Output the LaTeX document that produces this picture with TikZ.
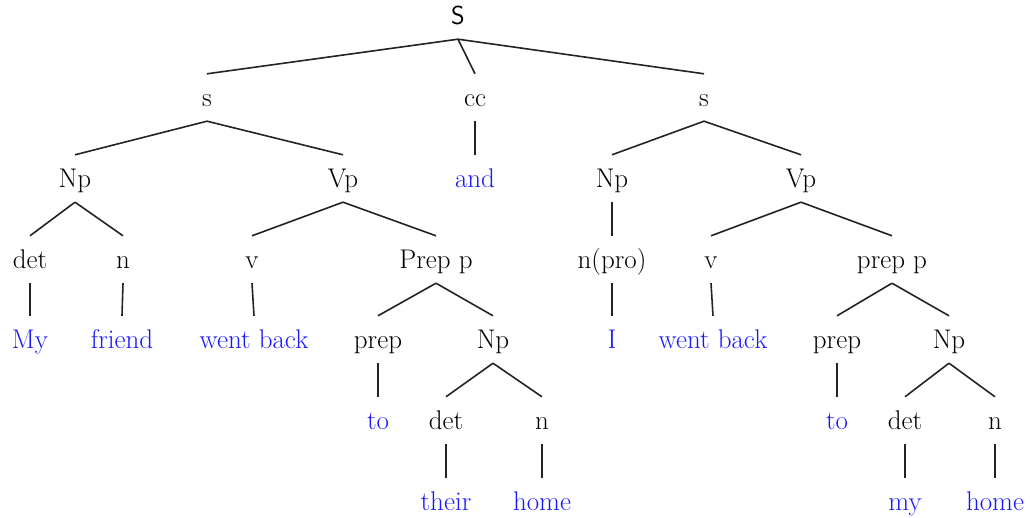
\documentclass[tikz,border=0pt]{standalone}
\usepackage{xcolor}
\definecolor{leafblue}{RGB}{25,25,250}
\definecolor{edgegray}{RGB}{35,35,35}
\begin{document}
\begin{tikzpicture}[x=1pt,y=-1pt,
  tn/.style={anchor=base,inner xsep=0pt,inner ysep=10pt,text height=23pt,text depth=4pt,
    font=\fontsize{27}{32}\selectfont,text=black},
  lf/.style={tn,text=leafblue},
  edge/.style={draw=edgegray,line width=1.6pt}]
\useasboundingbox (0,0) rectangle (1034,518);
% rows (baselines)
\node[tn,font=\fontsize{26}{30}\selectfont\sffamily] (S) at (458,25) {S};
\node[tn] (s1) at (207,107) {s};
\node[tn] (cc) at (475,107) {cc};
\node[tn] (s2) at (704,107) {s};
\node[tn] (np1) at (75,188) {Np};
\node[tn] (vp1) at (343,188) {Vp};
\node[lf] (and) at (475,188) {and};
\node[tn] (np2) at (612,188) {Np};
\node[tn] (vp2) at (801,188) {Vp};
\node[tn] (det1) at (30,269) {det};
\node[tn] (n1) at (123,269) {n};
\node[tn] (v1) at (252,269) {v};
\node[tn] (pp1) at (436,269) {Prep p};
\node[tn] (npro) at (612,269) {n(pro)};
\node[tn] (v2) at (711,269) {v};
\node[tn] (pp2) at (892,269) {prep p};
\node[lf] (my1) at (30,349) {My};
\node[lf] (friend) at (122,349) {friend};
\node[lf] (wb1) at (254,349) {went back};
\node[tn] (prep1) at (378,349) {prep};
\node[tn] (np3) at (493,349) {Np};
\node[lf] (I) at (612,349) {I};
\node[lf] (wb2) at (713,349) {went back};
\node[tn] (prep2) at (837,349) {prep};
\node[tn] (np4) at (949,349) {Np};
\node[lf] (to1) at (378,430) {to};
\node[tn] (det2) at (446,430) {det};
\node[tn] (n2) at (542,430) {n};
\node[lf] (to2) at (837,430) {to};
\node[tn] (det3) at (905,430) {det};
\node[tn] (n3) at (995,430) {n};
\node[lf] (their) at (446,511) {their};
\node[lf] (home1) at (542,511) {home};
\node[lf] (my2) at (905,511) {my};
\node[lf] (home2) at (995,511) {home};
% edges
\foreach \p/\c in {S/s1,S/cc,S/s2,s1/np1,s1/vp1,cc/and,s2/np2,s2/vp2,
  np1/det1,np1/n1,vp1/v1,vp1/pp1,np2/npro,vp2/v2,vp2/pp2,
  det1/my1,n1/friend,v1/wb1,pp1/prep1,pp1/np3,npro/I,v2/wb2,pp2/prep2,pp2/np4,
  prep1/to1,np3/det2,np3/n2,prep2/to2,np4/det3,np4/n3,
  det2/their,n2/home1,det3/my2,n3/home2}
  \draw[edge] (\p.south) -- (\c.north);
\end{tikzpicture}
\end{document}
